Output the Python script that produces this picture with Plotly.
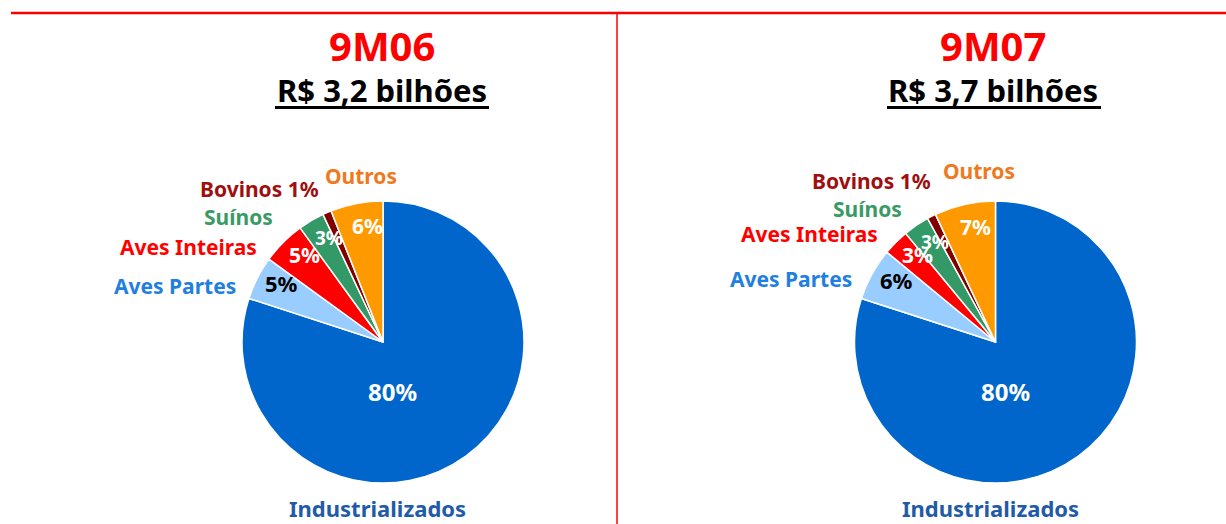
import math
import plotly.graph_objects as go

# ---------------- data ----------------
categories = ["Industrializados", "Aves Partes", "Aves Inteiras", "Suínos", "Bovinos", "Outros"]
values_9m06 = [80, 5, 5, 3, 1, 6]
values_9m07 = [80, 6, 3, 3, 1, 7]
period_titles = ["9M06", "9M07"]
totals = ["R$ 3,2 bilhões", "R$ 3,7 bilhões"]
name_texts = ["Industrializados", "Aves Partes", "Aves Inteiras", "Suínos", "Bovinos 1%", "Outros"]
# slices whose percentage is printed inside the pie
pct_shown = [True, True, True, True, False, True]

# ---------------- styles ----------------
W, H = 1226, 524
FONT = "Noto Sans"
slice_colors = ["#0066CC", "#99CCFF", "#FF0000", "#339966", "#800000", "#FF9900"]
name_colors = ["#1F5BA8", "#1F80E0", "#FF0000", "#3A9A64", "#A00F0F", "#F07820"]
pct_colors = ["white", "black", "white", "white", "white", "white"]
pct_sizes = [24, 22, 21, 19, 19, 21]

# pie geometry in pixels (center x, center y, radius)
pies = [dict(cx=383, cy=342, r=141), dict(cx=995.5, cy=342, r=141)]
# name label positions (pixel centers) per pie
name_pos = [
    [(377.5, 508), (175, 286), (188.5, 247), (238.5, 217), (259.5, 189), (361.5, 176)],
    [(990, 508), (791, 279), (809, 234), (867, 209), (871.5, 181), (978.5, 171)],
]
LABEL_R = 0.83
ANGLE_SHIFT = 3.0
BIG_OFFSET = (0.07, 0.35)


def px(x):
    return x / W


def py(y):
    return 1 - y / H


fig = go.Figure()
annotations = []
shapes = []

for i, vals in enumerate([values_9m06, values_9m07]):
    g = pies[i]
    fig.add_trace(go.Pie(
        values=vals,
        labels=categories,
        sort=False,
        direction="clockwise",
        rotation=0,
        textinfo="none",
        hoverinfo="label+percent",
        showlegend=False,
        marker=dict(colors=slice_colors, line=dict(color="white", width=1.5)),
        domain=dict(x=[px(g["cx"] - g["r"]), px(g["cx"] + g["r"])],
                    y=[py(g["cy"] + g["r"]), py(g["cy"] - g["r"])]),
    ))

    total = sum(vals)
    cum = 0
    for k, v in enumerate(vals):
        mid = (cum + v / 2) / total * 360.0
        cum += v
        if not pct_shown[k]:
            continue
        if k == 0:
            x = g["cx"] + BIG_OFFSET[0] * g["r"]
            y = g["cy"] + BIG_OFFSET[1] * g["r"]
        else:
            a = math.radians(mid + ANGLE_SHIFT)
            x = g["cx"] + LABEL_R * g["r"] * math.sin(a)
            y = g["cy"] - LABEL_R * g["r"] * math.cos(a)
        annotations.append(dict(
            x=px(x), y=py(y), xref="paper", yref="paper",
            text=f"<b>{round(v / total * 100)}%</b>", showarrow=False,
            xanchor="center", yanchor="middle",
            font=dict(family=FONT, size=pct_sizes[k], color=pct_colors[k]),
        ))

    for k, name in enumerate(name_texts):
        x, y = name_pos[i][k]
        annotations.append(dict(
            x=px(x), y=py(y), xref="paper", yref="paper",
            text=f"<b>{name}</b>", showarrow=False,
            xanchor="center", yanchor="middle",
            font=dict(family=FONT, size=21 if k else 22, color=name_colors[k]),
        ))

    # titles
    tx = [381.5, 993][i]
    annotations.append(dict(
        x=px(tx), y=py(45.5), xref="paper", yref="paper",
        text=f"<b>{period_titles[i]}</b>", showarrow=False,
        xanchor="center", yanchor="middle",
        font=dict(family=FONT, size=40, color="#FF0000"),
    ))
    annotations.append(dict(
        x=px(tx), y=py(90), xref="paper", yref="paper",
        text=f"<b>{totals[i]}</b>", showarrow=False,
        xanchor="center", yanchor="middle",
        font=dict(family=FONT, size=31, color="black"),
    ))
    ul = [(275, 489), (887, 1101)][i]
    shapes.append(dict(type="line", xref="paper", yref="paper",
                       x0=px(ul[0]), x1=px(ul[1]), y0=py(107.5), y1=py(107.5),
                       line=dict(color="black", width=3)))

# red frame lines
shapes.append(dict(type="line", xref="paper", yref="paper",
                   x0=px(11), x1=1, y0=py(13), y1=py(13),
                   line=dict(color="#FF0000", width=2.5)))
shapes.append(dict(type="line", xref="paper", yref="paper",
                   x0=px(617), x1=px(617), y0=py(13), y1=0,
                   line=dict(color="#FF0000", width=1.5)))

fig.update_layout(
    width=W, height=H, autosize=False,
    margin=dict(l=0, r=0, t=0, b=0),
    paper_bgcolor="white", plot_bgcolor="white",
    annotations=annotations, shapes=shapes,
    font=dict(family=FONT),
)

fig.write_html("out.html", config={"displayModeBar": False},
               post_script="document.body.style.margin='0';")
